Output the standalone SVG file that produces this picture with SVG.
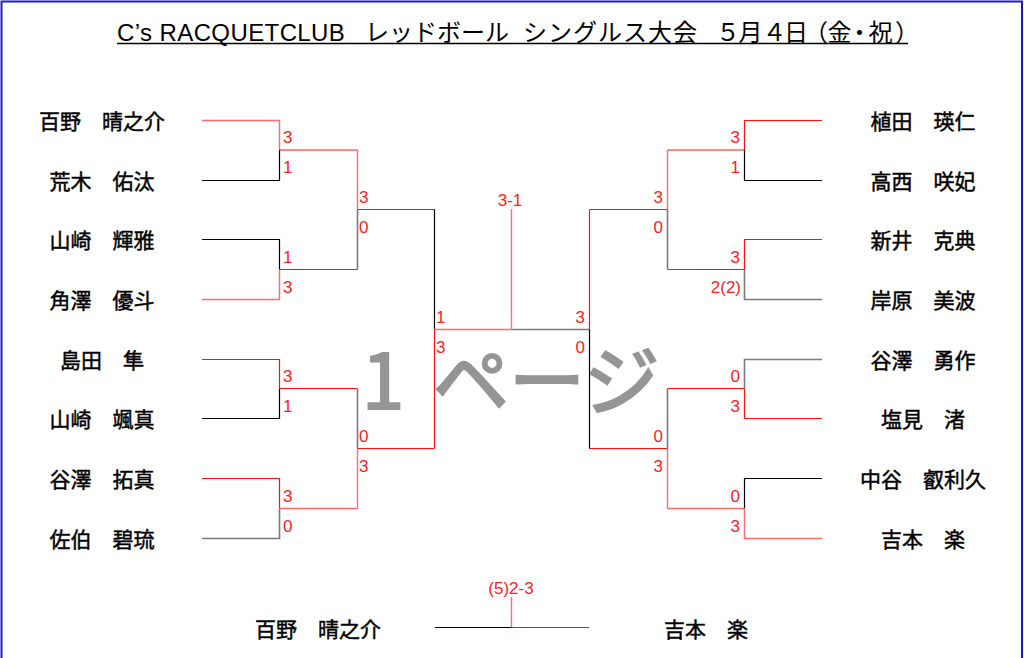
<svg xmlns="http://www.w3.org/2000/svg" width="1024" height="658" viewBox="0 0 1024 658">
<style>
.bg{fill:#ffffff}
.frame{stroke:#1a1acc;stroke-width:2;fill:none}
.title{font-family:"Liberation Sans","Noto Sans CJK JP",sans-serif;font-size:24px;fill:#000}
.name{font-family:"Noto Sans CJK JP",sans-serif;font-size:21px;font-weight:normal;fill:#000;stroke:#000;stroke-width:0.45;text-anchor:middle}
.sc{font-family:"Liberation Sans","Noto Sans CJK JP",sans-serif;font-size:17px;fill:#ff2020}
.end{text-anchor:end}
.mid{text-anchor:middle}
.wm{font-family:"Noto Sans CJK JP",sans-serif;font-size:76px;font-weight:normal;fill:#959595;stroke:#959595;stroke-width:2.2}
.r{stroke:#ff1010;stroke-width:1.2;fill:none}
.rl{stroke:#ff6a6a;stroke-width:1.4;fill:none}
.k{stroke:#000000;stroke-width:1.2;fill:none}
.g{stroke:#7a7a7a;stroke-width:1.6;fill:none}
</style>
<rect class="bg" x="0" y="0" width="1024" height="658"/>
<path class="frame" d="M1.5 660 V1.5 H1022 V660"/>

<g id="title">
<text class="title" x="117" y="41" style="letter-spacing:0.4px">C’s RACQUETCLUB　<tspan x="365" style="letter-spacing:0">レッドボール　</tspan><tspan x="523" style="letter-spacing:1px">シングルス大会　</tspan><tspan x="716 738.5 762.5 784 804 827.5 847.5 868.5 895" style="letter-spacing:0">５月４日（金・祝）</tspan></text>
<line x1="117" y1="43.5" x2="908" y2="43.5" stroke="#000" stroke-width="1.5"/>
</g>

<g id="watermark">
<text class="wm" x="362" y="409">1<tspan x="433">ページ</tspan></text>
</g>

<g id="connectors">
<path class="rl" d="M202 120.5 H279.5 V150"/>
<path class="k" d="M202 180.5 H279.5 V150"/>
<path class="r" d="M279.5 150 H357.5"/>
<path class="rl" d="M357.5 150 V209.5"/>
<path class="k" d="M202 239.5 H279.5 V269.5"/>
<path class="rl" d="M202 299.5 H279.5 V269.5"/>
<path class="r" d="M279.5 269.5 H357.5"/>
<path class="g" d="M357.5 269.5 V209.5"/>
<path class="r" d="M357.5 209.5 H434.5"/>
<path class="k" d="M434.5 209.5 V329.5"/>
<path class="r" d="M202 359.5 H279.5 V388.5"/>
<path class="k" d="M202 418.5 H279.5 V388.5"/>
<path class="r" d="M279.5 388.5 H357.5"/>
<path class="g" d="M357.5 388.5 V448.5"/>
<path class="r" d="M202 478.5 H279.5 V508.5"/>
<path class="g" d="M202 538.5 H279.5 V508.5"/>
<path class="rl" d="M279.5 508.5 H357.5"/>
<path class="rl" d="M357.5 508.5 V448.5"/>
<path class="r" d="M357.5 448.5 H434.5"/>
<path class="r" d="M434.5 448.5 V329.5"/>
<path class="rl" d="M434.5 329.5 H512"/>
<path class="g" d="M512 329.5 H589.5"/>
<path class="rl" d="M511.5 209 V329.5"/>

<path class="r" d="M822 120.5 H744.5 V150"/>
<path class="k" d="M822 180.5 H744.5 V150"/>
<path class="r" d="M744.5 150 H667.5"/>
<path class="rl" d="M667.5 150 V209.5"/>
<path class="r" d="M822 239.5 H744.5 V269.5"/>
<path class="g" d="M822 299.5 H744.5 V269.5"/>
<path class="r" d="M744.5 269.5 H667.5"/>
<path class="g" d="M667.5 269.5 V209.5"/>
<path class="r" d="M667.5 209.5 H589.5"/>
<path class="r" d="M589.5 209.5 V329.5"/>
<path class="g" d="M822 359.5 H744.5 V388.5"/>
<path class="r" d="M822 418.5 H744.5 V388.5"/>
<path class="r" d="M744.5 388.5 H667.5"/>
<path class="g" d="M667.5 388.5 V448.5"/>
<path class="k" d="M822 478.5 H744.5 V508.5"/>
<path class="rl" d="M822 538.5 H744.5 V508.5"/>
<path class="rl" d="M744.5 508.5 H667.5"/>
<path class="rl" d="M667.5 508.5 V448.5"/>
<path class="r" d="M667.5 448.5 H589.5"/>
<path class="k" d="M589.5 448.5 V329.5"/>

<path class="k" d="M435 627.5 H512"/>
<path class="r" d="M512 627.5 H589"/>
<path class="rl" d="M511.5 597 V627.5"/>
</g>

<g id="scores">
<text class="sc" x="283" y="143">3</text>
<text class="sc" x="283" y="173">1</text>
<text class="sc" x="283" y="262.5">1</text>
<text class="sc" x="283" y="292.5">3</text>
<text class="sc" x="283" y="381.5">3</text>
<text class="sc" x="283" y="411.5">1</text>
<text class="sc" x="283" y="501.5">3</text>
<text class="sc" x="283" y="531.5">0</text>
<text class="sc" x="359" y="202.5">3</text>
<text class="sc" x="359" y="232.5">0</text>
<text class="sc" x="359" y="441.5">0</text>
<text class="sc" x="359" y="471.5">3</text>
<text class="sc" x="436" y="322.5">1</text>
<text class="sc" x="436" y="352.5">3</text>

<text class="sc end" x="740" y="143">3</text>
<text class="sc end" x="740" y="173">1</text>
<text class="sc end" x="740" y="262.5">3</text>
<text class="sc end" x="741" y="292.5">2(2)</text>
<text class="sc end" x="740" y="381.5">0</text>
<text class="sc end" x="740" y="411.5">3</text>
<text class="sc end" x="740" y="501.5">0</text>
<text class="sc end" x="740" y="531.5">3</text>
<text class="sc end" x="663" y="202.5">3</text>
<text class="sc end" x="663" y="232.5">0</text>
<text class="sc end" x="663" y="441.5">0</text>
<text class="sc end" x="663" y="471.5">3</text>
<text class="sc end" x="585" y="322.5">3</text>
<text class="sc end" x="585" y="352.5">0</text>

<text class="sc mid" x="510" y="206">3-1</text>
<text class="sc mid" x="511" y="594">(5)2-3</text>
</g>

<g id="p-L1"><text class="name" x="102" y="128.5">百野　晴之介</text></g>
<g id="p-L2"><text class="name" x="102" y="188.5">荒木　佑汰</text></g>
<g id="p-L3"><text class="name" x="102" y="247.5">山崎　輝雅</text></g>
<g id="p-L4"><text class="name" x="102" y="307.5">角澤　優斗</text></g>
<g id="p-L5"><text class="name" x="102" y="367.5">島田　隼</text></g>
<g id="p-L6"><text class="name" x="102" y="426.5">山崎　颯真</text></g>
<g id="p-L7"><text class="name" x="102" y="486.5">谷澤　拓真</text></g>
<g id="p-L8"><text class="name" x="102" y="546.5">佐伯　碧琉</text></g>

<g id="p-R1"><text class="name" x="923" y="128.5">植田　瑛仁</text></g>
<g id="p-R2"><text class="name" x="923" y="188.5">高西　咲妃</text></g>
<g id="p-R3"><text class="name" x="923" y="247.5">新井　克典</text></g>
<g id="p-R4"><text class="name" x="923" y="307.5">岸原　美波</text></g>
<g id="p-R5"><text class="name" x="923" y="367.5">谷澤　勇作</text></g>
<g id="p-R6"><text class="name" x="923" y="426.5">塩見　渚</text></g>
<g id="p-R7"><text class="name" x="923" y="486.5">中谷　叡利久</text></g>
<g id="p-R8"><text class="name" x="923" y="546.5">吉本　楽</text></g>

<g id="p-B1"><text class="name" x="318" y="636.5">百野　晴之介</text></g>
<g id="p-B2"><text class="name" x="706" y="636.5">吉本　楽</text></g>
</svg>
